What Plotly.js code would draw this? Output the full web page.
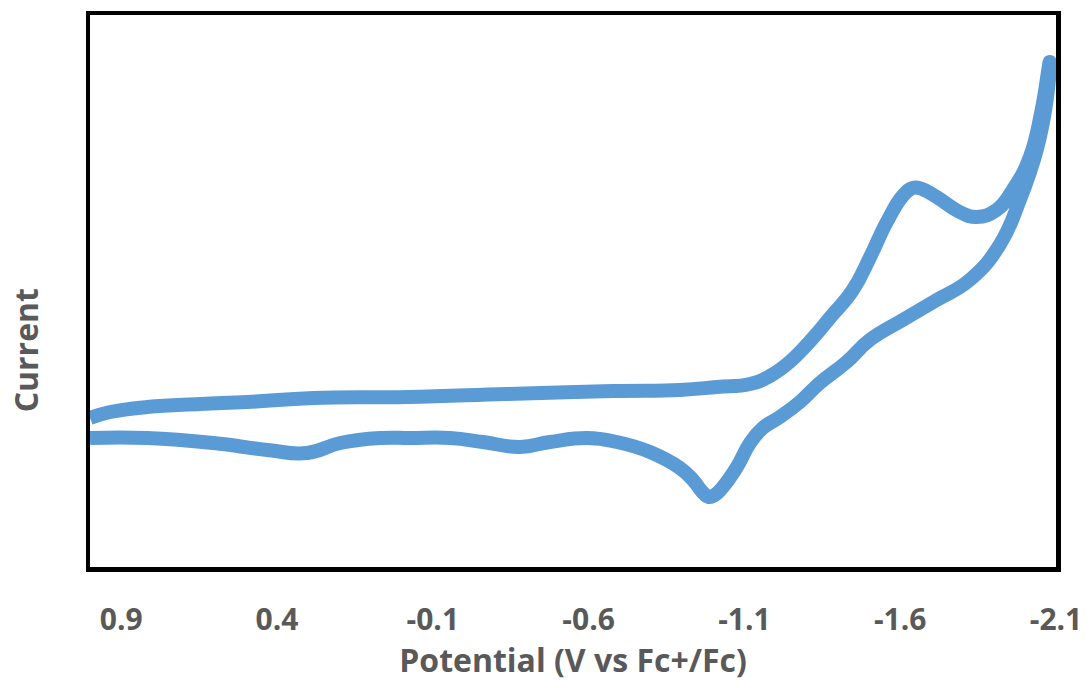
<!DOCTYPE html>
<html>
<head>
<meta charset="utf-8">
<script src="https://cdn.plot.ly/plotly-3.0.1.min.js"></script>
<style>html,body{margin:0;padding:0;background:#fff;}#chart{width:1090px;height:688px;}</style>
</head>
<body>
<div id="chart"></div>
<script>
// Potential (V vs Fc+/Fc), forward scan then return scan
const potential = [
  1.00, 0.935, 0.816, 0.646, 0.495, 0.283, -0.018, -0.339, -0.678, -0.893, -1.012,
  -1.118, -1.182, -1.245, -1.320, -1.374, -1.448, -1.502, -1.557, -1.608, -1.640, -1.670,
  -1.717, -1.791, -1.845, -1.909, -1.961, -2.015, -2.054, -2.080,
  -2.070, -2.038, -1.984, -1.919, -1.823, -1.717, -1.608, -1.502, -1.428, -1.342,
  -1.278, -1.214, -1.159, -1.118, -1.076, -1.031, -1.005, -0.985, -0.965, -0.935, -0.893, -0.797,
  -0.691, -0.595, -0.476, -0.380, -0.261, -0.156, -0.027, 0.069, 0.197, 0.303,
  0.431, 0.604, 0.816, 1.00
];
// Current (arbitrary units)
const current = [
  2.2, 2.8, 3.3, 3.6, 3.8, 4.2, 4.3, 4.6, 4.9, 5.0, 5.3,
  5.6, 6.4, 7.8, 10.2, 12.2, 15.0, 18.2, 21.8, 24.4, 25.2, 25.1,
  24.3, 22.8, 22.3, 23.0, 25.0, 28.2, 33.0, 37.8,
  34.0, 29.0, 24.0, 19.5, 16.0, 14.0, 12.0, 10.0, 7.8, 5.7,
  3.8, 2.3, 1.2, -0.3, -2.7, -4.7, -5.5, -5.7, -5.2, -4.0, -2.8, -1.2,
  -0.2, 0.2, -0.2, -0.7, -0.2, 0.2, 0.2, 0.2, -0.3, -1.3,
  -1.0, -0.3, 0.2, 0.2
];
const tickValues = [0.9, 0.4, -0.1, -0.6, -1.1, -1.6, -2.1];
const tickLabels = ["0.9", "0.4", "-0.1", "-0.6", "-1.1", "-1.6", "-2.1"];

const grey = '#595959';
const trace = {
  x: potential, y: current, type: 'scatter', mode: 'lines',
  line: {color: '#5B9BD5', width: 14, shape: 'spline', smoothing: 1.3},
  hoverinfo: 'skip'
};
const layout = {
  width: 1090, height: 688,
  margin: {l: 90, r: 34, t: 15, b: 121},
  paper_bgcolor: '#fff', plot_bgcolor: '#fff',
  showlegend: false,
  font: {family: '"Open Sans", sans-serif', color: grey},
  xaxis: {
    range: [1.0, -2.1], autorange: false,
    tickvals: tickValues, ticktext: tickLabels,
    ticks: '', showgrid: false, zeroline: false,
    showline: true, linecolor: '#000', linewidth: 4.5, mirror: true,
    tickfont: {size: 30, color: grey, weight: 'bold'},
    ticklabelstandoff: 22,
    title: {text: 'Potential (V vs Fc+/Fc)', font: {size: 32, color: grey, weight: 'bold'}, standoff: 10}
  },
  yaxis: {
    range: [-12.7, 42.5], autorange: false,
    showticklabels: false, ticks: '', showgrid: false, zeroline: false,
    showline: true, linecolor: '#000', linewidth: 4.5, mirror: true
  },
  annotations: [{
    text: 'Current', textangle: -90, showarrow: false,
    xref: 'paper', yref: 'paper', x: -0.067, y: 0.393, xanchor: 'center', yanchor: 'middle',
    font: {size: 32, color: grey, weight: 'bold', family: '"Open Sans", sans-serif'}
  }]
};
Plotly.newPlot('chart', [trace], layout, {displayModeBar: false, staticPlot: true});
</script>
</body>
</html>
